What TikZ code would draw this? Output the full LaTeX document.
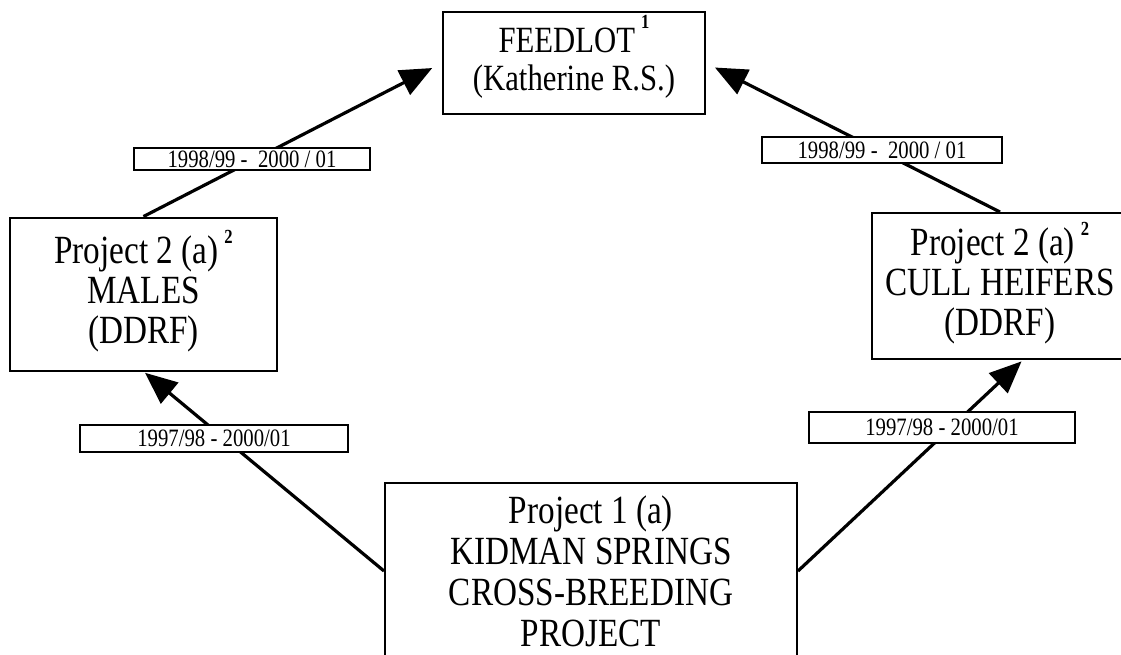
\documentclass[tikz,border=0pt]{standalone}
\usepackage{fontspec}
\setmainfont{Liberation Serif}[FakeStretch=0.83]
\usetikzlibrary{arrows.meta}

\newcommand{\supmark}[3]{\smash{\hspace{#2}\raisebox{#1}{\fontsize{20}{20}\selectfont\textbf{#3}}}}

\begin{document}
\begin{tikzpicture}[x=1pt, y=-1pt,
        box/.style={draw, line width=2pt, align=center, inner sep=0pt, font=\fontsize{40}{40}\selectfont},
        datebox/.style={draw, fill=white, line width=1.8pt, inner sep=0pt, font=\fontsize{25}{26}\selectfont},
        flow/.style={line width=3.2pt, -{Triangle[length=32pt,width=27pt]}}]
    \useasboundingbox (0,0) rectangle (1121,654);

    \node[box, minimum width=262pt, minimum height=102pt, font=\fontsize{37}{38}\selectfont] (feedlot) at (574,63) {FEEDLOT\supmark{24pt}{6pt}{1}\\(Katherine R.S.)};
    \node[box, minimum width=267pt, minimum height=153pt] (males) at (143.5,294) {Project 2 (a)\supmark{20pt}{6pt}{2}\\MALES\\(DDRF)};
    \node[box, minimum width=256pt, minimum height=146pt] (heifers) at (1000,286) {Project 2 (a)\supmark{20pt}{6pt}{2}\\CULL HEIFERS\\(DDRF)};
    \node[box, minimum width=412pt, minimum height=176pt, font=\fontsize{40}{41}\selectfont] (project) at (591,571) {Project 1 (a)\\KIDMAN SPRINGS\\CROSS-BREEDING\\PROJECT};

    \draw[flow, shorten >=11pt] (males.north) -- (feedlot.west);
    \draw[flow, shorten >=10pt] (heifers.north) -- (feedlot.east);
    \draw[flow, shorten >=2pt] (project.west) -- (males.south);
    \draw[flow, shorten >=2pt] (project.east) -- ([xshift=23pt]heifers.south);

    \node[datebox, minimum width=236pt, minimum height=22pt] (spanA) at (252,159) {1998/99 - \ 2000 / 01};
    \node[datebox, minimum width=240pt, minimum height=26pt] (spanB) at (882,150) {1998/99 - \ 2000 / 01};
    \node[datebox, minimum width=268pt, minimum height=27pt] (spanC) at (214,438.5) {1997/98 - 2000/01};
    \node[datebox, minimum width=266pt, minimum height=31pt] (spanD) at (942,427.5) {1997/98 - 2000/01};
\end{tikzpicture}
\end{document}
